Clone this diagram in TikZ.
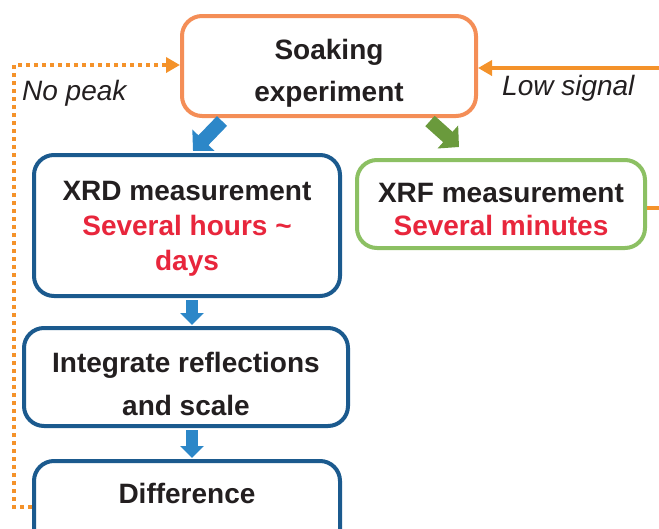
\documentclass[tikz,border=0pt]{standalone}
\usepackage{fontspec}
\setmainfont{Liberation Sans}
\usetikzlibrary{arrows.meta}

\definecolor{txtdark}{HTML}{231F20}
\definecolor{txtred}{HTML}{E8263C}
\definecolor{soakorange}{HTML}{F48E57}
\definecolor{lineorange}{HTML}{F4922A}
\definecolor{xrdblue}{HTML}{1B5A8E}
\definecolor{arrowblue}{HTML}{2C87C8}
\definecolor{xrfgreen}{HTML}{8CC063}
\definecolor{arrowgreen}{HTML}{6A9A3C}

\tikzset{
  stagebox/.style={draw, line width=4pt, rounded corners=20pt, inner sep=0pt, fill=white},
  boxtext/.style={text=txtdark, align=center, inner sep=0pt,
    font=\fontsize{28}{35}\selectfont\bfseries},
  bigarrow/.style={line width=14pt, -{Triangle[width=30pt,length=15pt]}},
  smallarrow/.style={line width=11.5pt, -{Triangle[width=23pt,length=12pt]}},
  feedback/.style={lineorange, line width=3.5pt},
  looplabel/.style={font=\fontsize{28}{30}\selectfont\itshape, text=txtdark,
    inner sep=0pt, anchor=west},
}

\begin{document}
\begin{tikzpicture}[x=1pt,y=-1pt]
\useasboundingbox (0,0) rectangle (659,528);
\clip (0,0) rectangle (659,528);

% process stages
\node[stagebox, draw=soakorange, minimum width=294pt, minimum height=100pt] (soak) at (329,66) {};
\node[stagebox, draw=xrdblue, minimum width=306pt, minimum height=141pt] (xrd) at (187,225.5) {};
\node[stagebox, draw=xrfgreen, minimum width=288pt, minimum height=88pt] (xrf) at (501,204) {};
\node[stagebox, draw=xrdblue, minimum width=324pt, minimum height=98pt] (integ) at (186,377) {};
\node[stagebox, draw=xrdblue, minimum width=306pt, minimum height=101pt, anchor=north] (diff) at (187,459) {};

% stage texts
\node[boxtext] (soaktxt) at ([yshift=-7.5pt]soak.center) {Soaking\\[7pt]experiment};
\node[boxtext] (xrdtxt) at ([yshift=-3pt]xrd.center)
  {XRD measurement\\\textcolor{txtred}{Several hours \textasciitilde}\\\textcolor{txtred}{days}};
\node[boxtext] (xrftxt) at ([yshift=-5.5pt]xrf.center) {XRF measurement\\[-1pt]\textcolor{txtred}{Several minutes}};
\node[boxtext] (integtxt) at ([yshift=-7pt]integ.center) {Integrate reflections\\[8pt]and scale};
\node[boxtext] (difftxt) at (187,493) {Difference};

% flow arrows
\draw[bigarrow, arrowblue] ([xshift=-107pt,yshift=-3pt]soak.south) -- ([xshift=6pt,yshift=2pt]xrd.north);
\draw[bigarrow, arrowgreen] ([xshift=101pt,yshift=-3pt]soak.south) -- ([xshift=-42pt,yshift=11pt]xrf.north);
\draw[smallarrow, arrowblue] ([xshift=5pt,yshift=-2pt]xrd.south) -- ([xshift=6pt,yshift=1pt]integ.north);
\draw[smallarrow, arrowblue] ([xshift=6pt,yshift=-2pt]integ.south) -- ([xshift=5pt,yshift=1pt]diff.north);

% feedback loops
\coordinate (loopbl) at (14,507);
\coordinate (looptl) at (14,65);
\draw[feedback, dash pattern=on 4pt off 4pt, -{Triangle[width=15pt,length=14pt]}]
  (diff.west |- loopbl) -- (loopbl) -- (looptl) -- (soak.west |- looptl);
\node[looplabel] (nopeak) at (22,93) {No peak};

\coordinate (rightin) at (659,68);
\coordinate (rightout) at (659,208);
\draw[feedback, -{Triangle[width=15pt,length=14pt]}] (rightin) -- (soak.east |- rightin);
\draw[feedback] (xrf.east |- rightout) -- (rightout);
\node[looplabel] (lowsig) at (502,88) {Low signal};
\end{tikzpicture}
\end{document}
